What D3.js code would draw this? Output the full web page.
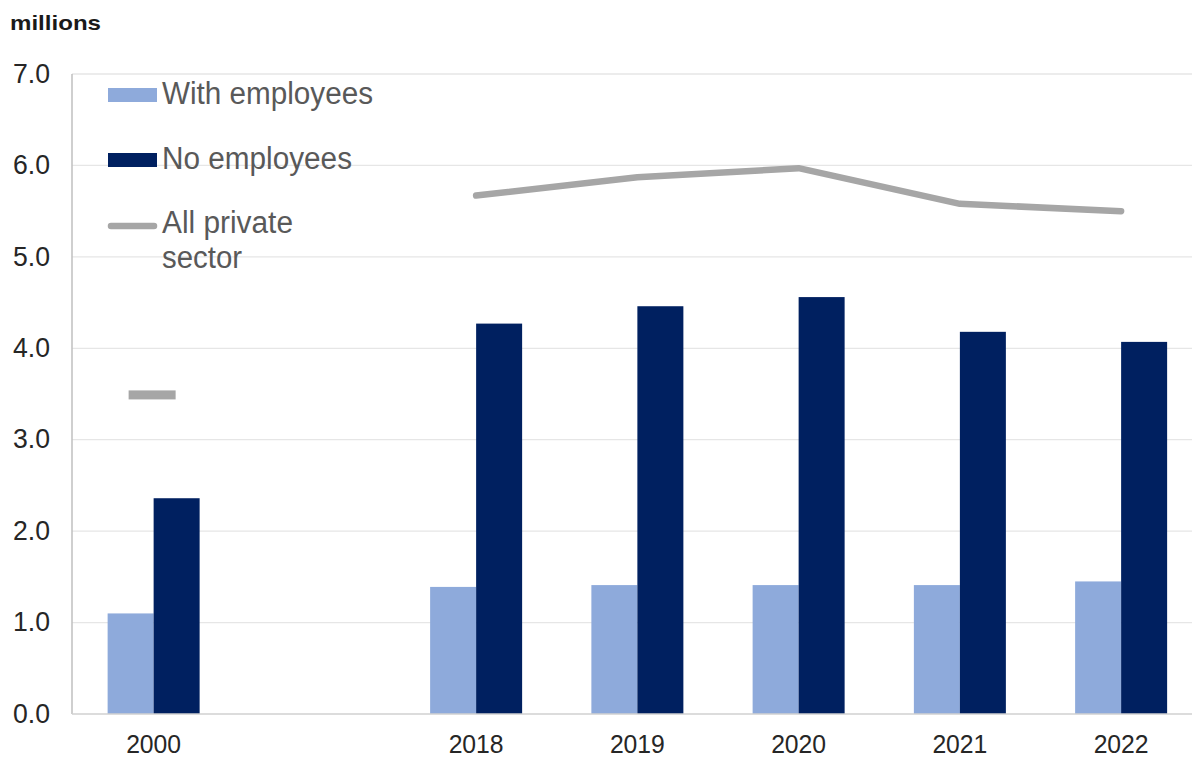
<!DOCTYPE html>
<html>
<head>
<meta charset="utf-8">
<script src="https://cdn.jsdelivr.net/npm/d3@7"></script>
<style>
  body { margin: 0; background: #fff; }
  svg { display: block; font-family: "Liberation Sans", Arial, sans-serif; }
</style>
</head>
<body>
<div id="chart"></div>
<script>
// categories, "" is the empty slot between 2000 and 2018
var years = ["2000", "", "2018", "2019", "2020", "2021", "2022"];
var withEmployees = [1.10, null, 1.39, 1.41, 1.41, 1.41, 1.45];
var noEmployees = [2.36, null, 4.27, 4.46, 4.56, 4.18, 4.07];
var allPrivate = [3.49, null, 5.67, 5.87, 5.97, 5.58, 5.50];
var yTicks = [0, 1, 2, 3, 4, 5, 6, 7];

var width = 1192, height = 758;
var margin = {top: 74, left: 72, bottom: 44};

var svg = d3.select("#chart").append("svg")
    .attr("width", width)
    .attr("height", height);

var x = d3.scaleBand()
    .domain(years)
    .range([margin.left + 1, margin.left + 1 + 161.25 * years.length])
    .paddingInner(0)
    .paddingOuter(0);

var y = d3.scaleLinear()
    .domain([0, 7])
    .range([height - margin.bottom, margin.top]);

var barW = 46;

// gridlines
svg.append("g").selectAll("line")
    .data(yTicks.slice(1))
    .enter().append("line")
    .attr("x1", margin.left)
    .attr("x2", width)
    .attr("y1", function(d) { return y(d); })
    .attr("y2", function(d) { return y(d); })
    .attr("stroke", "#e6e6e6")
    .attr("stroke-width", 1.3);

// y tick labels
svg.append("g").selectAll("text")
    .data(yTicks)
    .enter().append("text")
    .attr("x", 50)
    .attr("y", function(d) { return y(d) + 8.7; })
    .attr("text-anchor", "end")
    .attr("font-size", 28)
    .attr("textLength", 37)
    .attr("lengthAdjust", "spacingAndGlyphs")
    .attr("fill", "#262626")
    .text(function(d) { return d.toFixed(1); });

svg.append("text")
    .attr("x", 10)
    .attr("y", 30)
    .attr("font-size", 20.5)
    .attr("font-weight", "bold")
    .attr("textLength", 91)
    .attr("lengthAdjust", "spacingAndGlyphs")
    .attr("fill", "#1a1a1a")
    .text("millions");

// bars
years.forEach(function(yr, i) {
    if (withEmployees[i] == null) return;
    var c = x(yr) + x.bandwidth() / 2;
    svg.append("rect")
        .attr("x", c - barW)
        .attr("y", y(withEmployees[i]))
        .attr("width", barW)
        .attr("height", y(0) - y(withEmployees[i]))
        .attr("fill", "#8eaadb");
    svg.append("rect")
        .attr("x", c)
        .attr("y", y(noEmployees[i]))
        .attr("width", barW)
        .attr("height", y(0) - y(noEmployees[i]))
        .attr("fill", "#002060");
});

// axes lines
svg.append("line")
    .attr("x1", margin.left).attr("x2", margin.left)
    .attr("y1", margin.top).attr("y2", y(0))
    .attr("stroke", "#bfbfbf").attr("stroke-width", 1.5);
svg.append("line")
    .attr("x1", margin.left).attr("x2", width)
    .attr("y1", y(0)).attr("y2", y(0))
    .attr("stroke", "#d0d0d0").attr("stroke-width", 1.5);

// x labels
svg.append("g").selectAll("text")
    .data(years.filter(function(d) { return d !== ""; }))
    .enter().append("text")
    .attr("x", function(d) { return x(d) + x.bandwidth() / 2; })
    .attr("y", 753)
    .attr("text-anchor", "middle")
    .attr("font-size", 26)
    .attr("textLength", 55)
    .attr("lengthAdjust", "spacingAndGlyphs")
    .attr("fill", "#262626")
    .text(function(d) { return d; });

// all private sector line (2018 onwards), 2000 as a dash marker
var lineData = years.map(function(d, i) { return {year: d, value: allPrivate[i]}; })
    .filter(function(d, i) { return i >= 2; });

var line = d3.line()
    .x(function(d) { return x(d.year) + x.bandwidth() / 2; })
    .y(function(d) { return y(d.value); });

svg.append("path")
    .datum(lineData)
    .attr("d", line)
    .attr("fill", "none")
    .attr("stroke", "#a6a6a6")
    .attr("stroke-width", 6.5)
    .attr("stroke-linecap", "round")
    .attr("stroke-linejoin", "round");

var c0 = x(years[0]) + x.bandwidth() / 2 - 2;
svg.append("rect")
    .attr("x", c0 - 23)
    .attr("y", y(allPrivate[0]) - 4.5)
    .attr("width", 47)
    .attr("height", 9)
    .attr("fill", "#a6a6a6");

// legend
var legend = svg.append("g");
legend.append("rect").attr("x", 108).attr("y", 88).attr("width", 49).attr("height", 14).attr("fill", "#8eaadb");
legend.append("rect").attr("x", 108).attr("y", 153).attr("width", 49).attr("height", 14).attr("fill", "#002060");
legend.append("line").attr("x1", 111).attr("x2", 154).attr("y1", 226).attr("y2", 226)
    .attr("stroke", "#a6a6a6").attr("stroke-width", 6.5).attr("stroke-linecap", "round");

var legText = [
    {t: "With employees", y: 104, w: 211},
    {t: "No employees", y: 169, w: 190},
    {t: "All private", y: 233, w: 131},
    {t: "sector", y: 268, w: 80}
];
legend.selectAll("text")
    .data(legText)
    .enter().append("text")
    .attr("x", 162)
    .attr("y", function(d) { return d.y; })
    .attr("font-size", 31)
    .attr("textLength", function(d) { return d.w; })
    .attr("lengthAdjust", "spacingAndGlyphs")
    .attr("fill", "#595959")
    .text(function(d) { return d.t; });
</script>
</body>
</html>
